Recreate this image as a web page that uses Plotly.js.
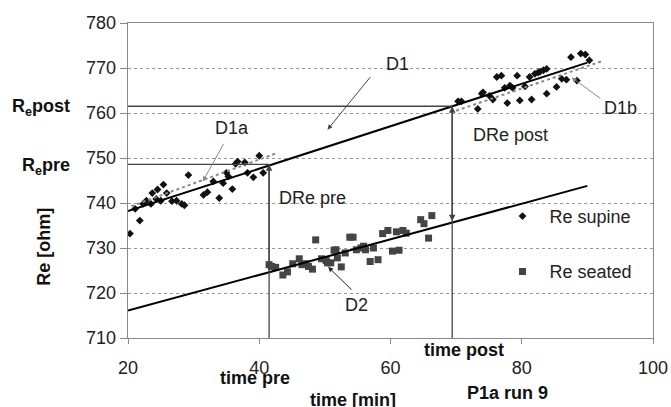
<!DOCTYPE html>
<html>
<head>
<meta charset="utf-8">
<script src="https://cdn.plot.ly/plotly-3.0.1.min.js"></script>
<style>html,body{margin:0;padding:0;background:#fff;}#chart{width:671px;height:407px;}</style>
</head>
<body>
<div id="chart"></div>
<script>
// ---- data ----
const supineX = [20.3, 21.8, 21.1, 22.3, 22.8, 23.5, 23.7, 24.3, 24.5, 25.0, 25.4, 25.9, 26.7, 27.4, 28.2, 28.6, 29.2, 31.5, 32.1,
  33.0, 33.9, 34.5, 35.0, 35.3, 35.9, 36.4, 36.7, 37.8, 38.2, 39.1, 40.0, 40.6,
  70.3, 70.8, 73.3, 73.9, 74.1, 75.1, 75.6, 76.2, 76.9, 77.4, 77.8, 78.2, 78.6, 79.3, 79.7, 80.5, 81.2, 81.5, 82.0, 82.5,
  82.8, 83.3, 83.8, 83.8, 85.3, 86.1, 86.8, 87.5, 88.4, 89.0, 89.7, 90.3];
const supineY = [733.2, 736.1, 738.7, 739.8, 740.5, 739.8, 742.2, 740.9, 743.0, 740.5, 744.1, 742.2, 740.4, 740.5, 739.8, 739.5, 746.2, 741.8, 742.4,
  744.8, 741.1, 744.4, 746.7, 745.9, 743.1, 748.7, 749.2, 749.0, 746.7, 745.7, 750.5, 746.7,
  762.6, 762.6, 760.9, 764.3, 764.6, 763.8, 763.0, 768.0, 768.3, 765.6, 762.2, 766.1, 765.6, 768.3, 762.8, 765.9, 768.0, 763.0, 768.7, 769.0,
  769.2, 769.5, 769.8, 764.3, 765.8, 767.6, 767.4, 772.4, 767.2, 773.2, 773.0, 771.7];
const seatedX = [41.5, 41.9, 42.5, 43.6, 44.3, 45.1, 46.1, 46.5, 47.1, 47.5, 48.1, 48.6, 49.5, 50.2, 50.4, 50.9, 51.4, 51.7, 51.9, 52.5,
  53.1, 53.8, 54.3, 54.8, 55.5, 55.9, 56.2, 56.9, 57.4, 58.1, 58.8, 59.6, 60.3, 60.9, 61.3, 61.9, 62.4, 64.6, 65.1, 65.8, 66.3];
const seatedY = [726.3, 725.9, 725.7, 724.0, 724.7, 726.5, 727.6, 726.3, 726.5, 725.9, 725.3, 731.8, 727.6, 727.2, 726.7, 726.7, 729.5, 729.6, 727.8, 725.8,
  728.9, 732.4, 732.4, 729.6, 730.0, 730.4, 729.6, 727.0, 730.0, 727.4, 733.2, 733.9, 729.3, 733.6, 729.5, 733.9, 733.3, 736.3, 735.4, 732.2, 737.2];

// regression lines (end points)
const fitX = [20, 90];
const d1Y = [738.2, 771.2];
const d2Y = [716.1, 743.8];
const d1aX = [20.5, 42.5];
const d1aY = [739.3, 751.0];
const d1bX = [70.0, 92.4];
const d1bY = [760.5, 771.6];

// reference times / values
const timePre = 41.5, timePost = 69.4;
const rePre = 748.6, rePost = 761.5;
const d2Pre = 724.6, d2Post = 735.6;
const yMin = 710, xMin = 20;

const xTicks = [20, 40, 60, 80, 100];
const yTicks = [710, 720, 730, 740, 750, 760, 770, 780];

const FONT = 'Liberation Sans, Arial, sans-serif';
const darkLine = '#444';
const FS = 18;

const traces = [
  {x: supineX, y: supineY, mode: 'markers', type: 'scatter', name: 'Re supine', legendgroup: 'a',
   marker: {symbol: 'diamond', size: 6, color: '#111'}},
  {x: seatedX, y: seatedY, mode: 'markers', type: 'scatter', name: 'Re seated', legendgroup: 'b',
   marker: {symbol: 'square', size: 7, color: '#444'}},
  {x: fitX, y: d1Y, mode: 'lines', showlegend: false, line: {color: '#000', width: 2}},
  {x: fitX, y: d2Y, mode: 'lines', showlegend: false, line: {color: '#000', width: 2}},
  {x: d1aX, y: d1aY, mode: 'lines', showlegend: false, line: {color: '#888', width: 2, dash: 'dot'}},
  {x: d1bX, y: d1bY, mode: 'lines', showlegend: false, line: {color: '#888', width: 2, dash: 'dot'}},
  {x: [xMin, timePre], y: [rePre, rePre], mode: 'lines', showlegend: false, line: {color: darkLine, width: 1.3}},
  {x: [xMin, timePost], y: [rePost, rePost], mode: 'lines', showlegend: false, line: {color: darkLine, width: 1.3}},
  {x: [timePre, timePre], y: [yMin, rePre], mode: 'lines', showlegend: false, line: {color: darkLine, width: 1.3}},
  {x: [timePost, timePost], y: [yMin, rePost], mode: 'lines', showlegend: false, line: {color: darkLine, width: 1.3}}
];

const txt = (x, y, text, extra) => Object.assign({x: x, y: y, xref: 'x', yref: 'y', text: text, showarrow: false,
  font: {family: FONT, size: FS, color: '#222'}}, extra || {});
const arrow = (x, y, ax, ay, color) => ({x: x, y: y, ax: ax, ay: ay, xref: 'x', yref: 'y', axref: 'x', ayref: 'y',
  text: '', showarrow: true, arrowhead: 2, arrowsize: 1, arrowwidth: 1, arrowcolor: color, standoff: 0});
const bold = (x, y, xref, yref, text, extra) => Object.assign({x: x, y: y, xref: xref, yref: yref, text: '<b>' + text + '</b>',
  showarrow: false, xanchor: 'center', yanchor: 'middle', font: {family: FONT, size: FS, color: '#111'}}, extra || {});

const annotations = [
  txt(61.1, 770.8, 'D1'),
  arrow(50.4, 756.3, 57.1, 768.3, '#444'),
  txt(35.8, 756.7, 'D1a'),
  arrow(31.4, 744.8, 34.7, 753.5, '#888'),
  txt(95.0, 761.1, 'D1b'),
  arrow(87.6, 767.9, 92.2, 763.0, '#888'),
  txt(42.75, 741.1, 'DRe pre', {xanchor: 'left'}),
  txt(72.2, 755.2, 'DRe post', {xanchor: 'left'}),
  txt(54.8, 717.4, 'D2'),
  arrow(50.5, 725.8, 54.3, 720.4, '#222'),
  // double-headed arrows DRe pre / post
  Object.assign(arrow(timePre, rePre, timePre, d2Pre, darkLine), {arrowside: 'end+start', arrowwidth: 1.3}),
  Object.assign(arrow(timePost, rePost, timePost, d2Post, darkLine), {arrowside: 'end+start', arrowwidth: 1.3}),
  // labels outside plot
  bold(-0.107, rePost, 'paper', 'y', 'R<sub>e</sub>post', {xanchor: 'right', yshift: -1}),
  bold(-0.107, rePre, 'paper', 'y', 'R<sub>e</sub>pre', {xanchor: 'right', yshift: -2}),
  bold(39.35, -0.127, 'x', 'paper', 'time pre'),
  bold(71.2, -0.039, 'x', 'paper', 'time post'),
  bold(54.3, -0.197, 'x', 'paper', 'time [min]'),
  bold(0.723, -0.176, 'paper', 'paper', 'P1a run 9'),
  bold(-0.16, 730.3, 'paper', 'y', 'Re [ohm]', {textangle: -90})
];

const layout = {
  width: 671, height: 407,
  margin: {l: 128, r: 18, t: 23, b: 69},
  paper_bgcolor: '#fff', plot_bgcolor: '#fff',
  font: {family: FONT, size: FS, color: '#222'},
  showlegend: true,
  legend: {x: 0.70, y: 0.445, xanchor: 'left', yanchor: 'top', traceorder: 'grouped', tracegroupgap: 29,
           itemwidth: 44, bgcolor: 'rgba(0,0,0,0)', font: {family: FONT, size: FS, color: '#222'}},
  xaxis: {range: [20, 100], tickvals: xTicks, ticktext: xTicks.map(String), showgrid: false, zeroline: false,
          showline: true, linecolor: '#888', linewidth: 1.3, mirror: true, ticks: 'outside', ticklen: 5, tickcolor: '#888',
          ticklabelstandoff: 8, tickfont: {family: FONT, size: FS, color: '#222'}},
  yaxis: {range: [710, 780], tickvals: yTicks, ticktext: yTicks.map(String), showgrid: true, gridcolor: '#999',
          griddash: 'dot', gridwidth: 1, zeroline: false,
          showline: true, linecolor: '#888', linewidth: 1.3, mirror: true, ticks: 'outside', ticklen: 7, tickcolor: '#888',
          tickfont: {family: FONT, size: FS, color: '#222'}},
  annotations: annotations
};

Plotly.newPlot('chart', traces, layout, {displayModeBar: false, staticPlot: true});
</script>
</body>
</html>
